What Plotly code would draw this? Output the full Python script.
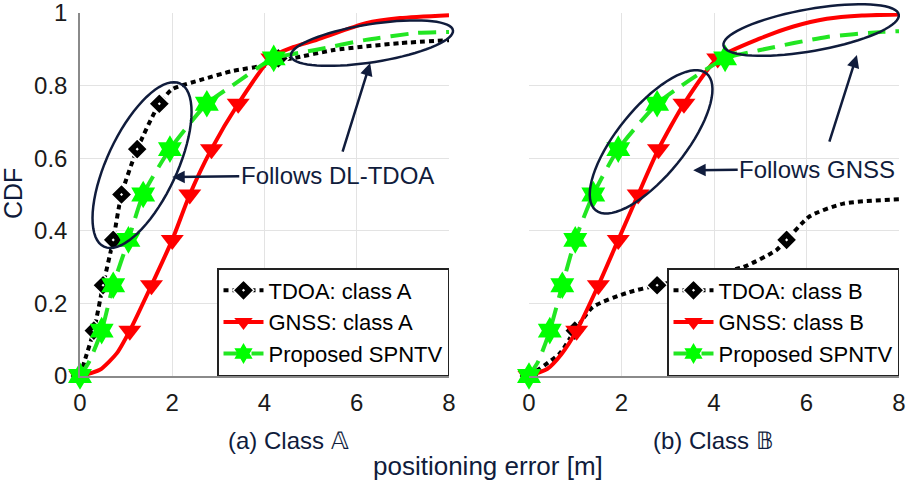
import numpy as np
import plotly.graph_objects as go

# ---- data ----
# (a) class A
tdoa_a_curve_x = [0, 0.12, 0.3, 0.5, 0.72, 0.9, 1.24, 1.72, 2.0, 2.6, 3.3, 4.05, 4.3, 4.6, 5.5, 6.94, 8.0]
tdoa_a_curve_y = [0, 0.05, 0.125, 0.25, 0.375, 0.5, 0.625, 0.75, 0.79, 0.815, 0.84, 0.857, 0.87, 0.875, 0.898, 0.917, 0.925]
tdoa_a_x = [0, 0.3, 0.5, 0.72, 0.9, 1.24, 1.72, 4.3]

gnss_a_curve_x = [0, 0.43, 0.8, 1.08, 1.55, 2.0, 2.38, 2.85, 3.43, 4.16, 4.62, 5.13, 6.2, 6.94, 8.0]
gnss_a_curve_y = [0, 0.017, 0.063, 0.125, 0.25, 0.375, 0.5, 0.625, 0.75, 0.879, 0.906, 0.926, 0.972, 0.986, 0.994]
gnss_a_x = [0, 1.08, 1.55, 2.0, 2.38, 2.85, 3.43, 4.16]

prop_a_curve_x = [0, 0.2, 0.47, 0.72, 1.05, 1.37, 1.95, 2.75, 3.3, 4.2, 5.1, 6.2, 7.3, 8.0]
prop_a_curve_y = [0, 0.04, 0.125, 0.25, 0.375, 0.5, 0.625, 0.75, 0.80, 0.875, 0.898, 0.926, 0.945, 0.948]
prop_a_x = [0, 0.47, 0.72, 1.05, 1.37, 1.95, 2.75, 4.2]

# (b) class B
tdoa_b_curve_x = [0, 0.67, 0.99, 1.38, 2.12, 2.77, 3.55, 4.63, 5.35, 5.57, 6.07, 6.8, 8.0]
tdoa_b_curve_y = [0, 0.063, 0.125, 0.19, 0.229, 0.25, 0.27, 0.30, 0.347, 0.375, 0.44, 0.475, 0.487]
tdoa_b_x = [0, 0.99, 2.77, 5.57]

gnss_b_curve_x = [0, 0.4, 0.7, 1.03, 1.5, 1.93, 2.36, 2.8, 3.35, 4.08, 5.0, 5.7, 6.44, 7.2, 8.0]
gnss_b_curve_y = [0, 0.02, 0.06, 0.125, 0.25, 0.375, 0.5, 0.625, 0.75, 0.875, 0.93, 0.962, 0.984, 0.993, 0.996]
gnss_b_x = [0, 1.03, 1.5, 1.93, 2.36, 2.8, 3.35, 4.08]

prop_b_curve_x = [0, 0.2, 0.45, 0.72, 1.0, 1.39, 1.93, 2.77, 3.3, 4.24, 5.0, 6.44, 7.65, 8.0]
prop_b_curve_y = [0, 0.04, 0.125, 0.25, 0.375, 0.5, 0.625, 0.75, 0.80, 0.875, 0.898, 0.934, 0.948, 0.95]
prop_b_x = [0, 0.45, 0.72, 1.0, 1.39, 1.93, 2.77, 4.24]

quantiles = [0, 0.125, 0.25, 0.375, 0.5, 0.625, 0.75, 0.875]

x_ticks = [0, 2, 4, 6, 8]
y_ticks = [0, 0.2, 0.4, 0.6, 0.8, 1]
y_tick_text = ["0", "0.2", "0.4", "0.6", "0.8", "1"]

FIG_W, FIG_H = 920, 486
M_T, M_B = 13, 110
PLOT_H = FIG_H - M_T - M_B
X_DOM = {"x": [80 / FIG_W, 449 / FIG_W], "x2": [529 / FIG_W, 899 / FIG_W]}
FONT = "Liberation Sans, Arial, sans-serif"
NAVY = "#101c3c"

fig = go.Figure()


def marker_style(symbol, size, color):
    if symbol == "diamond":
        return dict(symbol="diamond-dot", size=size, color="black", line=dict(color="white", width=1.5))
    return dict(symbol=symbol, size=size, color=color, line=dict(width=0))


def add_series(xa, leg, name, cx, cy, mx, my, color, dash, symbol, msize, mcolor):
    fig.add_trace(go.Scatter(x=cx, y=cy, mode="lines", xaxis=xa, yaxis="y",
                             line=dict(color=color, width=4, dash=dash, shape="spline", smoothing=0.6),
                             showlegend=False, cliponaxis=False, hoverinfo="skip"))
    fig.add_trace(go.Scatter(x=mx, y=my, mode="markers", xaxis=xa, yaxis="y",
                             marker=marker_style(symbol, msize, mcolor),
                             showlegend=False, cliponaxis=False))
    fig.add_trace(go.Scatter(x=[None], y=[None], mode="lines+markers", xaxis=xa, yaxis="y",
                             name=name, legend=leg,
                             line=dict(color=color, width=4, dash=dash),
                             marker=marker_style(symbol, msize, mcolor)))


DOT = "5px,4px"
DASH = "18px,10px"

add_series("x", "legend", "TDOA: class A", tdoa_a_curve_x, tdoa_a_curve_y, tdoa_a_x, quantiles,
           "black", DOT, "diamond", 16, "black")
add_series("x", "legend", "GNSS: class A", gnss_a_curve_x, gnss_a_curve_y, gnss_a_x, quantiles,
           "#ff0000", "solid", "triangle-down", 20, "#ff0000")
add_series("x", "legend", "Proposed SPNTV", prop_a_curve_x, prop_a_curve_y, prop_a_x, quantiles,
           "#22e622", DASH, "hexagram", 21, "#00ff00")

add_series("x2", "legend2", "TDOA: class B", tdoa_b_curve_x, tdoa_b_curve_y, tdoa_b_x, quantiles[:4],
           "black", DOT, "diamond", 16, "black")
add_series("x2", "legend2", "GNSS: class B", gnss_b_curve_x, gnss_b_curve_y, gnss_b_x, quantiles,
           "#ff0000", "solid", "triangle-down", 20, "#ff0000")
add_series("x2", "legend2", "Proposed SPNTV", prop_b_curve_x, prop_b_curve_y, prop_b_x, quantiles,
           "#22e622", DASH, "hexagram", 21, "#00ff00")


def ellipse_path(xa, cx, cy, a_px, b_px, angle_deg):
    d0, d1 = X_DOM[xa]
    px = (d0 + cx / 8 * (d1 - d0)) * FIG_W
    py = cy * PLOT_H
    th = np.radians(angle_deg)
    t = np.linspace(0, 2 * np.pi, 73)
    ex = px + a_px * np.cos(t) * np.cos(th) - b_px * np.sin(t) * np.sin(th)
    ey = py + a_px * np.cos(t) * np.sin(th) + b_px * np.sin(t) * np.cos(th)
    pts = [f"{x / FIG_W:.5f},{y / PLOT_H:.5f}" for x, y in zip(ex, ey)]
    return "M " + " L ".join(pts) + " Z"


for xa, cx, cy, a, b, ang in [("x", 1.345, 0.581, 90, 35, 65),
                              ("x", 6.33, 0.917, 82, 19, 9),
                              ("x2", 2.64, 0.645, 88, 34, 51),
                              ("x2", 6.10, 0.953, 89, 21, 10)]:
    fig.add_shape(type="path", path=ellipse_path(xa, cx, cy, a, b, ang),
                  xref="paper", yref="paper", line=dict(color=NAVY, width=2.5))

arrow = dict(showarrow=True, arrowhead=2, arrowsize=1, arrowwidth=2.5, arrowcolor=NAVY,
             font=dict(family=FONT, size=24, color=NAVY))
fig.add_annotation(x=2.0, y=0.548, xref="x", yref="y", ax=165, ay=-2,
                   text="Follows DL-TDOA", **arrow)
fig.add_annotation(x=6.29, y=0.862, xref="x", yref="y", ax=-28, ay=90, text="", **arrow)
fig.add_annotation(x=3.55, y=0.567, xref="x2", yref="y", ax=124, ay=-1,
                   text="Follows GNSS", **arrow)
fig.add_annotation(x=7.09, y=0.884, xref="x2", yref="y", ax=-28, ay=88, text="", **arrow)

label = dict(xref="paper", yref="paper", showarrow=False, xanchor="center", yanchor="middle")
fig.add_annotation(x=13 / FIG_W, y=(376 - 194) / PLOT_H, text="CDF", textangle=-90,
                   font=dict(family=FONT, size=25, color=NAVY), **label)
fig.add_annotation(x=288 / FIG_W, y=-(440 - 376) / PLOT_H, text="(a) Class 𝔸",
                   font=dict(family=FONT, size=24, color=NAVY), **label)
fig.add_annotation(x=713 / FIG_W, y=-(440 - 376) / PLOT_H, text="(b) Class 𝔹",
                   font=dict(family=FONT, size=24, color=NAVY), **label)
fig.add_annotation(x=488 / FIG_W, y=-(466 - 376) / PLOT_H, text="positioning error [m]",
                   font=dict(family=FONT, size=26, color=NAVY), **label)

axis_common = dict(range=[0, 8], tickvals=x_ticks, showgrid=True, gridcolor="#e3e3e3", gridwidth=1,
                   showline=True, linecolor="#8a8a8a", linewidth=1.5, zeroline=False, automargin=False,
                   ticks="", ticklabelstandoff=4, ticklabeloverflow="allow",
                   tickfont=dict(family=FONT, size=24, color="#1a1a1a"))
yaxis_common = dict(range=[0, 1], tickvals=y_ticks, ticktext=y_tick_text, showline=True,
                    linecolor="#8a8a8a", linewidth=1.5, zeroline=False, ticks="", automargin=False,
                    ticklabeloverflow="allow", tickfont=dict(family=FONT, size=24, color="#1a1a1a"))
legend_common = dict(xanchor="right", yanchor="bottom", y=0, bgcolor="white",
                     bordercolor="#222222", borderwidth=1.5, itemwidth=40, tracegroupgap=0,
                     font=dict(family=FONT, size=22, color="black"))

fig.update_layout(
    width=FIG_W, height=FIG_H,
    margin=dict(l=0, r=0, t=M_T, b=M_B, autoexpand=False),
    paper_bgcolor="white", plot_bgcolor="white",
    xaxis=dict(domain=X_DOM["x"], anchor="y", **axis_common),
    xaxis2=dict(domain=X_DOM["x2"], anchor="y", **axis_common),
    yaxis=dict(showgrid=True, gridcolor="#e3e3e3", ticklabelstandoff=6, **yaxis_common),
    yaxis2=dict(showgrid=False, overlaying="y", anchor="x2", ticklabelstandoff=3, **yaxis_common),
    legend=dict(x=449 / FIG_W, **legend_common),
    legend2=dict(x=899 / FIG_W, **legend_common),
    showlegend=True,
)

fig.write_html("out.html", config={"displayModeBar": False},
               post_script="document.body.style.margin='0';")
